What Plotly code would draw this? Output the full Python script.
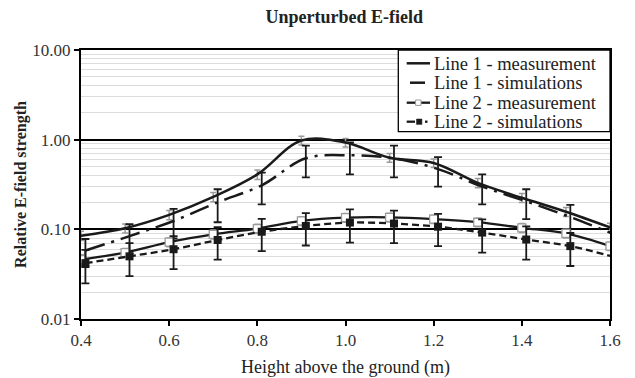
import plotly.graph_objects as go

x_meas = [0.4, 0.5, 0.6, 0.7, 0.8, 0.9, 1.0, 1.1, 1.2, 1.3, 1.4, 1.5, 1.6]
x_sim = [0.41, 0.51, 0.61, 0.71, 0.81, 0.91, 1.01, 1.11, 1.21, 1.31, 1.41, 1.51, 1.61]

l1_meas = [0.085, 0.103, 0.145, 0.23, 0.41, 0.98, 0.93, 0.63, 0.55, 0.33, 0.225, 0.157, 0.105]
l1_meas_err = [0.01, 0.012, 0.017, 0.027, 0.05, 0.11, 0.1, 0.07, 0.06, 0.04, 0.026, 0.018, 0.012]

l1_sim = [0.058, 0.084, 0.124, 0.20, 0.31, 0.62, 0.67, 0.62, 0.47, 0.30, 0.205, 0.137, 0.088]
l1_sim_err = [0.02, 0.03, 0.045, 0.08, 0.12, 0.24, 0.26, 0.24, 0.17, 0.11, 0.075, 0.05, 0.03]

l2_meas = [0.046, 0.055, 0.072, 0.088, 0.102, 0.124, 0.135, 0.136, 0.13, 0.12, 0.104, 0.09, 0.065]
l2_meas_err = [0.006, 0.006, 0.008, 0.01, 0.012, 0.014, 0.015, 0.015, 0.014, 0.013, 0.012, 0.01, 0.007]

l2_sim = [0.042, 0.050, 0.060, 0.076, 0.094, 0.109, 0.119, 0.116, 0.107, 0.092, 0.077, 0.065, 0.049]
l2_sim_err = [0.017, 0.02, 0.024, 0.03, 0.037, 0.043, 0.048, 0.046, 0.042, 0.037, 0.031, 0.026, 0.02]

series_names = ["Line 1 - measurement", "Line 1 - simulations", "Line 2 - measurement", "Line 2 - simulations"]

y_tickvals = [0.01, 0.1, 1, 10]
y_ticktext = ["0.01", "0.10", "1.00", "10.00"]
x_tickvals = [0.4, 0.6, 0.8, 1.0, 1.2, 1.4, 1.6]
x_ticktext = ["0.4", "0.6", "0.8", "1.0", "1.2", "1.4", "1.6"]

FONT = "Liberation Serif"
GRAY = "#9a9a9a"
BLACK = "#1a1a1a"
L1_SIM_DASH = "20px,7px,3px,7px"
L2_SIM_DASH = "7px,4px"

fig = go.Figure()

fig.add_trace(go.Scatter(
    x=x_meas, y=l1_meas, name=series_names[0], mode="lines",
    line=dict(color=BLACK, width=2.5, shape="spline"),
    error_y=dict(type="data", array=l1_meas_err, color=GRAY, thickness=1.5, width=3),
))
fig.add_trace(go.Scatter(
    x=x_sim, y=l1_sim, name=series_names[1], mode="lines",
    line=dict(color=BLACK, width=2.5, shape="spline", dash=L1_SIM_DASH),
    error_y=dict(type="data", array=l1_sim_err, color=BLACK, thickness=1.8, width=4),
))
fig.add_trace(go.Scatter(
    x=x_meas, y=l2_meas, name=series_names[2], mode="lines+markers",
    line=dict(color=BLACK, width=2.3, shape="spline"),
    marker=dict(symbol="square", size=8, color="white", line=dict(color=GRAY, width=1.3)),
    error_y=dict(type="data", array=l2_meas_err, color=GRAY, thickness=1.5, width=3),
))
fig.add_trace(go.Scatter(
    x=x_sim, y=l2_sim, name=series_names[3], mode="lines+markers",
    line=dict(color=BLACK, width=2.3, shape="spline", dash=L2_SIM_DASH),
    marker=dict(symbol="square", size=8, color=BLACK),
    error_y=dict(type="data", array=l2_sim_err, color=BLACK, thickness=1.8, width=4),
))

# ---- custom legend box (compact rows like the reference) ----
PX_L, PX_R, PX_T, PX_B = 81, 610, 50, 319
def px(xp):
    return (xp - PX_L) / (PX_R - PX_L)
def py(yp):
    return (PX_B - yp) / (PX_B - PX_T)

shapes = [dict(type="rect", xref="paper", yref="paper", x0=px(398.3), x1=1.0, y0=py(131.7), y1=1.0,
               fillcolor="white", line=dict(color="black", width=1.3), layer="above")]
row_y = [63.3, 82.7, 102.7, 121.7]
shapes.append(dict(type="line", xref="paper", yref="paper", x0=px(406.7), x1=px(430), y0=py(row_y[0]), y1=py(row_y[0]),
                   line=dict(color=BLACK, width=2.5), layer="above"))
shapes.append(dict(type="line", xref="paper", yref="paper", x0=px(410), x1=px(425), y0=py(row_y[1]), y1=py(row_y[1]),
                   line=dict(color=BLACK, width=2.5), layer="above"))
shapes.append(dict(type="line", xref="paper", yref="paper", x0=px(406.7), x1=px(430), y0=py(row_y[2]), y1=py(row_y[2]),
                   line=dict(color=BLACK, width=2.3), layer="above"))
shapes.append(dict(type="rect", xref="paper", yref="paper", xsizemode="pixel", ysizemode="pixel",
                   xanchor=px(418.3), yanchor=py(row_y[2]), x0=-2.7, x1=2.7, y0=-2.7, y1=2.7,
                   fillcolor="white", line=dict(color=GRAY, width=1), layer="above"))
shapes.append(dict(type="line", xref="paper", yref="paper", x0=px(406.7), x1=px(415), y0=py(row_y[3]), y1=py(row_y[3]),
                   line=dict(color=BLACK, width=2.3), layer="above"))
shapes.append(dict(type="rect", xref="paper", yref="paper", xsizemode="pixel", ysizemode="pixel",
                   xanchor=px(419.2), yanchor=py(row_y[3]), x0=-2.7, x1=2.7, y0=-2.7, y1=2.7,
                   fillcolor=BLACK, line=dict(color=BLACK, width=0.5), layer="above"))
shapes.append(dict(type="line", xref="paper", yref="paper", x0=px(425), x1=px(427.5), y0=py(row_y[3]), y1=py(row_y[3]),
                   line=dict(color=BLACK, width=2.3), layer="above"))

annotations = [dict(text=series_names[i], xref="paper", yref="paper", x=px(431.5), y=py(row_y[i]),
                    xanchor="left", yanchor="middle", showarrow=False, height=19, valign="middle",
                    font=dict(family=FONT, size=18.5, color="#222")) for i in range(4)]

fig.update_layout(
    width=635, height=378,
    margin=dict(l=81, r=25, t=50, b=59),
    paper_bgcolor="white", plot_bgcolor="white",
    font=dict(family=FONT, color="black", size=17),
    title=dict(text="<b>Unperturbed E-field</b>", x=0.542, xanchor="center", y=0.955, yanchor="middle",
               font=dict(family=FONT, size=18, color="#222")),
    showlegend=False,
    shapes=shapes,
    annotations=annotations,
)

fig.update_xaxes(
    range=[0.4, 1.6], tickvals=x_tickvals, ticktext=x_ticktext, automargin=False,
    showline=True, linecolor="black", linewidth=2, mirror=True,
    ticks="outside", ticklen=5, tickcolor="black", tickwidth=2,
    showgrid=False, zeroline=False,
    tickfont=dict(family=FONT, size=17, color="#333"),
    title=dict(text="Height above the ground (m)", font=dict(family=FONT, size=18, color="#222"), standoff=12),
)
fig.update_yaxes(
    type="log", range=[-2, 1], tickvals=y_tickvals, ticktext=y_ticktext, automargin=False,
    showline=True, linecolor="black", linewidth=2, mirror=True,
    ticks="outside", ticklen=5, tickcolor="black", tickwidth=2,
    showgrid=True, gridcolor="black", gridwidth=1.5,
    minor=dict(tickvals=[m * 10 ** e for e in (-2, -1, 0) for m in range(2, 10)],
               showgrid=True, gridcolor="#dcdcdc", gridwidth=1.3, ticks=""),
    tickfont=dict(family=FONT, size=17, color="#333"),
    title=dict(text="<b>Relative E-field strength</b>", font=dict(family=FONT, size=16, color="#222"), standoff=2),
)

fig.write_html("out.html")
